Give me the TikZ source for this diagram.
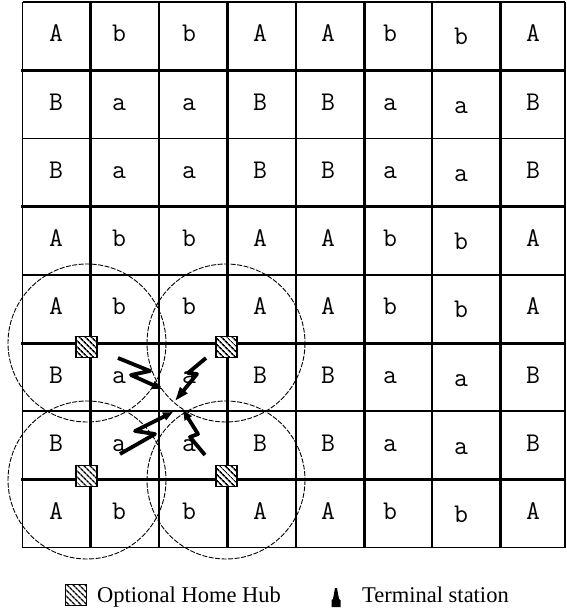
\documentclass[tikz,border=0pt]{standalone}
\usepackage{fontspec}
\setmainfont{Liberation Serif}
\definecolor{inkcol}{HTML}{000000}
\definecolor{papercol}{HTML}{FFFFFF}
\usetikzlibrary{arrows.meta,patterns.meta}

\begin{document}
\begin{tikzpicture}[x=1pt, y=-1pt,
  thinrule/.style={inkcol, line width=1.7pt},
  thickrule/.style={inkcol, line width=3pt},
  coverage/.style={inkcol, line width=0.9pt, dash pattern=on 5pt off 1.5pt},
  hub/.style={draw=inkcol, line width=1.2pt, minimum size=21pt, inner sep=0pt,
    preaction={fill=papercol},
    pattern={Lines[angle=-45, distance=4pt, line width=1.6pt]}, pattern color=inkcol},
  cell/.style={font=\ttfamily\fontsize{27}{27}\selectfont, inner sep=0pt, anchor=base},
  bolt/.style={inkcol, line width=3.8pt, line join=round,
    -{Triangle[length=10pt, width=8pt]}},
  keytext/.style={font=\fontsize{22.5}{22.5}\selectfont, anchor=base west, inner sep=0pt}]

\useasboundingbox (0,0) rectangle (566,609);

% === GRID: thin and thick lines ===
\foreach \x in {22.5, 159.1, 295.7, 432.3, 565}
  \draw[thinrule] (\x,2) -- (\x,547.6);
\foreach \y in {2, 138.4, 274.8, 411.2, 547.6}
  \draw[thinrule] (22.5,\y) -- (565,\y);
\foreach \x in {90.8, 227.4, 364, 500.6}
  \draw[thickrule] (\x,2) -- (\x,547.6);
\foreach \y in {70.2, 206.6, 343, 479.4}
  \draw[thickrule] (21,\y) -- (565,\y);

% === CELL LABELS ===
\foreach \row [count=\j from 0] in {{A,b,b,A,A,b,b,A},{B,a,a,B,B,a,a,B},
    {B,a,a,B,B,a,a,B},{A,b,b,A,A,b,b,A},{A,b,b,A,A,b,b,A},
    {B,a,a,B,B,a,a,B},{B,a,a,B,B,a,a,B},{A,b,b,A,A,b,b,A}} {
  \foreach \ch [count=\i from 0] in \row {
    \pgfmathsetmacro\cx{{56,119,189,260,328,390,461,533}[\i]}
    \pgfmathsetmacro\cy{42 + 68.2*\j + (\i==6 ? 3 : 0)}
    \node[cell] (cell-\j-\i) at (\cx,\cy) {\ch};
  }
}

% === COVERAGE CIRCLES ===
\draw[coverage] (87,343) circle (79);
\draw[coverage] (226,343) circle (79);
\draw[coverage] (87,480) circle (79);
\draw[coverage] (226,480) circle (79);

% === HOME HUBS ===
\node[hub] (hubUL) at (86.5,347) {};
\node[hub] (hubUR) at (226.5,347) {};
\node[hub] (hubLL) at (86.5,476) {};
\node[hub] (hubLR) at (226.5,476) {};

% === RADIO LINKS to the terminal ===
\draw[bolt] (118,358) -- (150,371) -- (131,375) -- (162,389);
\draw[bolt, -{Triangle[length=14pt, width=9pt]}]
  (206,358) -- (188,373) -- (197,374) -- (175,401);
\draw[bolt] (120,454) -- (155,434) -- (135,431) -- (173,412);
\draw[bolt] (205,455) -- (190,437) -- (198,434) -- (183,410);

% === LEGEND ===
\node[hub] (keyhub) at (76,595) {};
\node[keytext] (keyhubtext) at (97,602) {Optional Home Hub};
\fill[inkcol] (335,588) -- (337,588) -- (339,599) -- (340.5,600) -- (340.5,607)
  -- (331.5,607) -- (331.5,600) -- (333,599) -- cycle;
\node[keytext] (keytermtext) at (362,602.5) {Terminal station};

\end{tikzpicture}
\end{document}
